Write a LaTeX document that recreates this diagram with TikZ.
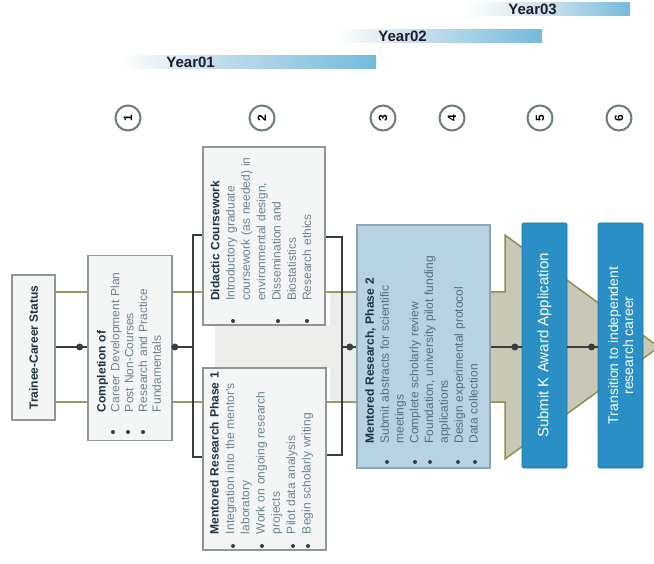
\documentclass[tikz,border=0pt]{standalone}
\usepackage{fontspec}
\setmainfont{Liberation Sans}
\usetikzlibrary{calc}
\definecolor{boxD}{HTML}{8D979B}
\definecolor{boxF}{HTML}{F4F6F6}
\definecolor{cD}{HTML}{8EA6B3}
\definecolor{cF}{HTML}{B7D3E2}
\definecolor{kBlue}{HTML}{2A8FC4}
\definecolor{kBlueD}{HTML}{1F77A8}
\definecolor{oliveC}{HTML}{9A9A64}
\definecolor{darkL}{HTML}{3A3D3E}
\definecolor{arrF}{HTML}{C9C8B7}
\definecolor{arrD}{HTML}{8E8E50}
\definecolor{midF}{HTML}{ECEDEA}
\definecolor{titleC}{HTML}{1C3440}
\definecolor{bodyC}{HTML}{6A828E}
\definecolor{circC}{HTML}{6B7B80}
\definecolor{yearL}{HTML}{C2DDEA}
\definecolor{yearB}{HTML}{74BADD}
\definecolor{yearT}{HTML}{1D1D2A}
\begin{document}
\begin{tikzpicture}[x=1pt,y=-1pt,
  box/.style={draw=boxD, fill=boxF, line width=1.6pt},
  cbox/.style={draw=cD, fill=cF, line width=1.6pt},
  kbox/.style={fill=kBlue, draw=kBlueD, line width=0.8pt, rounded corners=1.5pt},
  rot/.style={rotate=90, align=left, inner sep=0pt, text=bodyC},
  olv/.style={draw=oliveC, line width=2.6pt},
  midl/.style={draw=darkL, line width=2pt},
  brk/.style={draw=darkL, line width=2.2pt},
  dotn/.style={circle, fill=darkL, inner sep=0pt, minimum size=7pt},
  bul/.style={circle, fill=darkL, inner sep=0pt, minimum size=4pt},
  numc/.style={circle, draw=circC, line width=2pt, minimum size=25pt, inner sep=0pt, fill=white, font=\bfseries\fontsize{12}{12}\selectfont, rotate=90},
  yearl/.style={font=\bfseries\fontsize{15}{15}\selectfont, text=yearT, inner sep=0pt},
]
\useasboundingbox (0,0) rectangle (654,564);
\clip (0,0) rectangle (654,564);
\fill[white] (0,0) rectangle (654,564);

% year bars
\shade[left color=white, right color=yearL] (120,56) rectangle (216,69);
\shade[left color=yearL, right color=yearB] (216,56) rectangle (376,69);
\node[yearl, anchor=east] (y1) at (215,62.5) {Year01};
\shade[left color=white, right color=yearL] (335,30) rectangle (428,43);
\shade[left color=yearL, right color=yearB] (428,30) rectangle (542,43);
\node[yearl, anchor=east] (y2) at (427,36.5) {Year02};
\shade[left color=white, right color=yearL] (465,3) rectangle (558,16);
\shade[left color=yearL, right color=yearB] (558,3) rectangle (630,16);
\node[yearl, anchor=east] (y3) at (557,9.5) {Year03};

% numbered circles
\node[numc] (c1) at (128,118) {1};
\node[numc] (c2) at (262,118) {2};
\node[numc] (c3) at (383,118) {3};
\node[numc] (c4) at (452,118) {4};
\node[numc] (c5) at (540,118) {5};
\node[numc] (c6) at (619,118) {6};

% background arrows
\fill[midF] (215,325) -- (330,325) -- (330,292) -- (357,292) -- (357,402) -- (330,402) -- (330,368) -- (215,368) -- cycle;
\filldraw[fill=arrF, draw=arrD, line width=1.5pt] (470,292) -- (505,292) -- (505,235) -- (659,347) -- (505,459) -- (505,402) -- (470,402) -- cycle;

% boxes (shapes)
\node[box, minimum width=43pt, minimum height=145pt] (A) at (33.5,347.5) {};
\node[box, minimum width=84pt, minimum height=185pt] (B) at (130,348) {};
\node[box, minimum width=122pt, minimum height=178pt] (Top) at (264,236) {};
\node[box, minimum width=123pt, minimum height=182pt] (Bot) at (264.5,459) {};
\node[cbox, minimum width=133pt, minimum height=243pt] (C) at (423.5,346.5) {};
\node[kbox, minimum width=45pt, minimum height=245pt] (K) at (544.5,345.5) {};
\node[kbox, minimum width=45pt, minimum height=245pt] (T) at (620.5,345.5) {};

% reference coordinates
\coordinate (yT) at (0,292);
\coordinate (yM) at (0,347);
\coordinate (yB) at (0,402);
\coordinate (L1) at (193,235);
\coordinate (L2) at (193,457);
\coordinate (R1) at (342,237);
\coordinate (R2) at (342,455);

% connectors
\draw[olv] (A.east |- yT) -- (B.west |- yT);
\draw[olv] (A.east |- yB) -- (B.west |- yB);
\draw[midl] (A.east |- yM) -- (B.west |- yM) node[pos=0.76, dotn] (d1) {};
\draw[olv] (B.east |- yT) -- (Top.west |- yT);
\draw[olv] (B.east |- yB) -- (Bot.west |- yB);
\draw[midl] (B.east |- yM) -- (L1 |- yM) node[pos=0.1, dotn] (d2) {};
\draw[brk] (Top.west |- L1) -- (L1) -- (L2) -- (Bot.west |- L2);
\draw[olv] (Top.east |- yT) -- (C.west |- yT);
\draw[olv] (Bot.east |- yB) -- (C.west |- yB);
\draw[brk] (Top.east |- R1) -- (R1) -- (R2) -- (Bot.east |- R2);
\draw[midl] (R1 |- yM) -- (C.west |- yM) node[pos=0.55, dotn] (d3) {};
\draw[midl] (C.east |- yM) -- (K.west |- yM) node[pos=0.78, dotn] (d4) {};
\draw[midl] (K.east |- yM) -- (T.west |- yM) node[pos=0.8, dotn] (d5) {};

% texts
\node[rot, font=\bfseries\fontsize{12}{15}\selectfont, text=titleC] (At) at (A.center) {Trainee-Career Status};
\node[rot, text width=150pt, font=\fontsize{12}{13.8}\selectfont] (Bt) at (129,337)
  {\textcolor{titleC}{\bfseries Completion of}\\Career Development Plan\\Post Non-Courses\\Research and Practice\\Fundamentals};
\node[rot, text width=152pt, font=\fontsize{12}{15.3}\selectfont] (Topt) at (261,225)
  {\textcolor{titleC}{\bfseries Didactic Coursework}\\Introductory graduate\\coursework (as needed) in\\environmental design,\\Dissemination and\\Biostatistics\\Research ethics};
\node[rot, text width=176pt, font=\fontsize{12}{15.3}\selectfont] (Bott) at (261.5,446)
  {\textcolor{titleC}{\bfseries Mentored Research Phase 1}\\Integration into the mentor's\\laboratory\\Work on ongoing research\\projects\\Pilot data analysis\\Begin scholarly writing};
\node[rot, text width=215pt, font=\fontsize{12}{14.8}\selectfont, text=bodyC!85!black] (Ct) at (421.5,336)
  {\textcolor{titleC}{\bfseries Mentored Research, Phase 2}\\Submit abstracts for scientific\\meetings\\Complete scholarly review\\Foundation, university pilot funding\\applications\\Design experimental protocol\\Data collection};
\node[rotate=90, text=white, inner sep=0pt, font=\fontsize{15}{15}\selectfont] (Kt) at (K.center) {Submit K Award Application};
\node[rotate=90, align=center, text=white, inner sep=0pt, font=\fontsize{14}{15}\selectfont] (Tt) at (T.center) {Transition to independent\\research career};

% bullets
\foreach \x [count=\i] in {113,128,143} \node[bul] (bB\i) at (\x,432) {};
\foreach \x [count=\i] in {233,278,307} \node[bul] (bT\i) at (\x,321) {};
\foreach \x [count=\i] in {233,262,293,308} \node[bul] (bD\i) at (\x,546) {};
\foreach \x [count=\i] in {387,415,430,458,475} \node[bul] (bC\i) at (\x,462) {};
\end{tikzpicture}
\end{document}
